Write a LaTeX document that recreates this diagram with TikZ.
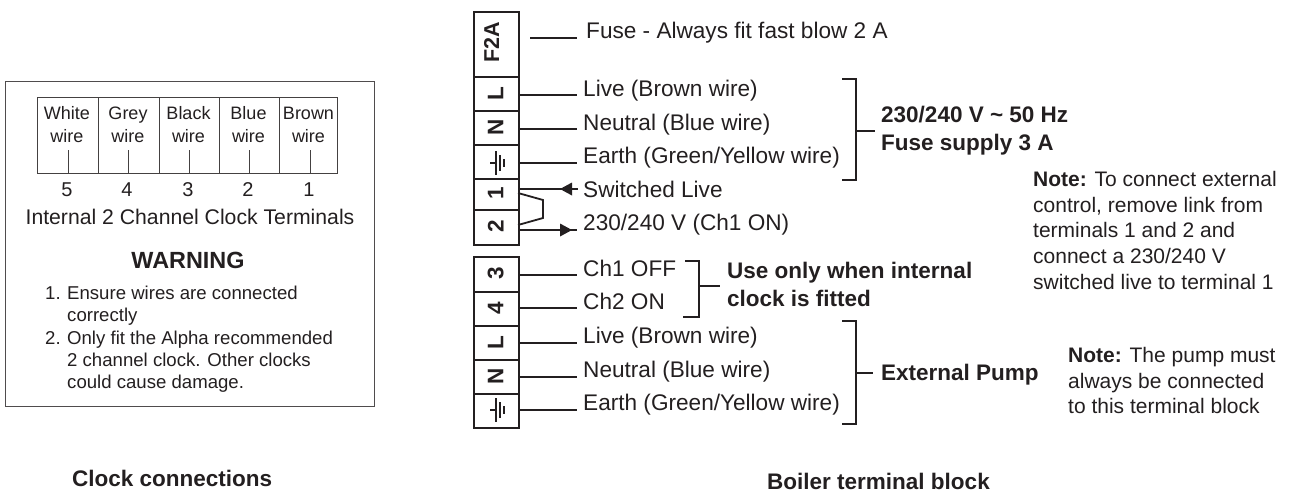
\documentclass[tikz,border=0pt]{standalone}
\usepackage{fontspec}
\setmainfont{Liberation Sans}
\definecolor{ink}{HTML}{231F20}
\tikzset{
  x=1pt,y=-1pt,
  txt/.style={anchor=base west,inner sep=0pt,text=ink,font=\fontsize{22.6}{26}\selectfont},
  boldtxt/.style={anchor=base west,inner sep=0pt,text=ink,font=\fontsize{22.5}{28}\selectfont\bfseries},
  note/.style={anchor=north west,inner sep=0pt,text=ink,font=\fontsize{21}{25.7}\selectfont,align=left},
  cell/.style={anchor=center,inner sep=0pt,text=ink,align=center,font=\fontsize{18}{23}\selectfont},
  term/.style={draw=ink,line width=2.3pt,minimum width=45pt,inner sep=0pt,anchor=north west,text=ink},
  tlabel/.style={text=ink,font=\fontsize{22.5}{24}\selectfont\bfseries,rotate=90,inner sep=0pt,xshift=1pt,yshift=0.5pt},
  wire/.style={draw=ink,line width=1.8pt},
  brk/.style={draw=ink,line width=2pt},
  thin/.style={draw=ink!85,line width=1pt},
  tcell/.style={thin,minimum height=76pt,anchor=north west,inner sep=0pt}
}
\newcommand{\earthsym}[2]{%
  \draw[ink,line width=1.2pt] (#1-6,#2) -- (#1,#2) (#1,#2-12) -- (#1,#2+12);
  \draw[ink,line width=1.2pt] (#1+4,#2-8) -- (#1+4,#2+8);
  \draw[ink,line width=1.2pt] (#1+8,#2-4) -- (#1+8,#2+4);
}
\begin{document}
\begin{tikzpicture}
\useasboundingbox (0,0) rectangle (1289,493);
% clock panel
\node[draw=ink!80,line width=1.3pt,minimum width=369pt,minimum height=325pt,anchor=north west,inner sep=0pt] (panel) at (5,81) {};
\node[tcell,minimum width=61pt] (c5) at (37,97) {};
\node[tcell,minimum width=61pt] (c4) at (98,97) {};
\node[tcell,minimum width=60pt] (c3) at (159,97) {};
\node[tcell,minimum width=60pt] (c2) at (219,97) {};
\node[tcell,minimum width=58pt] (c1) at (279,97) {};
\node[cell] (w5) at (67,125) {White\\wire};
\node[cell] (w4) at (128,125) {Grey\\wire};
\node[cell] (w3) at (188.5,125) {Black\\wire};
\node[cell] (w2) at (248.5,125) {Blue\\wire};
\node[cell] (w1) at (308.5,125) {Brown\\wire};
\foreach \x/\n/\m in {68/5/a,128/4/b,189/3/c,249/2/d,310/1/e}{
  \coordinate (t\m) at (\x,150);
  \coordinate (u\m) at (\x,173);
  \draw[thin] (t\m) -- (u\m);
  \node[cell,font=\fontsize{20}{22}\selectfont] (n\n) at (\x-1,190) {\n};
}
\node[cell,font=\fontsize{21.2}{24}\selectfont] (cap) at (190,217) {Internal 2 Channel Clock Terminals};
\node[cell,font=\fontsize{23.4}{26}\selectfont\bfseries] (warn) at (188,260) {WARNING};
\node[note,font=\fontsize{18.6}{22.2}\selectfont] (list) at (45,286) {%
  \makebox[22pt][l]{1.}Ensure wires are connected\\
  \makebox[22pt][l]{}correctly\\
  \makebox[22pt][l]{2.}Only fit the Alpha recommended\\
  \makebox[22pt][l]{}2 channel clock. Other clocks\\
  \makebox[22pt][l]{}could cause damage.};
\node[boldtxt] (cc) at (72,486) {Clock connections};
% terminal block
\foreach \nm/\y/\h in {f/11/65,l/76/34,n/110/34,e/144/34,a/178/31,b/209/35,c/256/35,d/291/34,g/325/34,h/359/34,i/393/34}{
  \node[term,minimum height=\h pt] (\nm) at (472.5,\y) {};
}
\node[tlabel,font=\fontsize{21.5}{24}\selectfont\bfseries,xshift=1.5pt,yshift=4pt] (lf) at (f.center) {F2A};
\node[tlabel] (ll) at (l.center) {L};
\node[tlabel] (ln) at (n.center) {N};
\node[tlabel] (la) at (a.center) {1};
\node[tlabel] (lb) at (b.center) {2};
\node[tlabel] (lc) at (c.center) {3};
\node[tlabel] (ld) at (d.center) {4};
\node[tlabel] (lg) at (g.center) {L};
\node[tlabel] (lh) at (h.center) {N};
\earthsym{496}{163}
\earthsym{496}{410}
% text labels
\node[txt] (tf) at (586,38) {Fuse - Always fit fast blow 2 A};
\node[txt] (tl) at (583,96) {Live (Brown wire)};
\node[txt] (tn) at (583,130) {Neutral (Blue wire)};
\node[txt] (te) at (583,163) {Earth (Green/Yellow wire)};
\node[txt] (ta) at (583,197) {Switched Live};
\node[txt] (tb) at (583,230) {230/240 V (Ch1 ON)};
\node[txt] (tc) at (583,276) {Ch1 OFF};
\node[txt] (td) at (583,309) {Ch2 ON};
\node[txt] (tg) at (583,343) {Live (Brown wire)};
\node[txt] (th) at (583,377) {Neutral (Blue wire)};
\node[txt] (ti) at (583,410) {Earth (Green/Yellow wire)};
% wires
\coordinate (ef) at (530,38); \coordinate (ff) at (577,38);
\draw[wire] (ef) -- (ff);
\foreach \s/\y in {l/95,n/129,e/163,c/275,d/308,g/343,h/377,i/410}{
  \coordinate (s\s) at (518,\y);
  \coordinate (x\s) at (577,\y);
  \draw[wire] (s\s) -- (x\s);
}
\coordinate (sa) at (518,189); \coordinate (xa) at (578,189);
\draw[wire] (sa) -- (xa);
\fill[ink] (560,189) -- (572,182.5) -- (572,195.5) -- cycle;
\coordinate (sb) at (518,230); \coordinate (xb) at (577,230);
\draw[wire] (sb) -- (xb);
\fill[ink] (572,230) -- (560,223.5) -- (560,236.5) -- cycle;
\coordinate (k1) at (518,193); \coordinate (k2) at (543,200); \coordinate (k3) at (543,218); \coordinate (k4) at (518,225);
\draw[wire] (k1) -- (k2) -- (k3) -- (k4);
% brackets
\coordinate (b1a) at (842,79); \coordinate (b1b) at (856,79); \coordinate (b1c) at (856,180); \coordinate (b1d) at (842,180); \coordinate (b1m) at (856,131); \coordinate (b1e) at (875,131);
\draw[brk] (b1a) -- (b1b) -- (b1c) -- (b1d) (b1m) -- (b1e);
\coordinate (b2a) at (685,261); \coordinate (b2b) at (699,261); \coordinate (b2c) at (699,317); \coordinate (b2d) at (683,317); \coordinate (b2m) at (699,286); \coordinate (b2e) at (720,286);
\draw[brk] (b2a) -- (b2b) -- (b2c) -- (b2d) (b2m) -- (b2e);
\coordinate (b3a) at (842,321); \coordinate (b3b) at (856,321); \coordinate (b3c) at (856,424); \coordinate (b3d) at (842,424); \coordinate (b3m) at (856,373); \coordinate (b3e) at (873,373);
\draw[brk] (b3a) -- (b3b) -- (b3c) -- (b3d) (b3m) -- (b3e);
% bold notes
\node[boldtxt] (v1) at (881,122.5) {230/240 V \textasciitilde{} 50 Hz};
\node[boldtxt] (v2) at (881,150) {Fuse supply 3 A};
\node[boldtxt] (u1) at (727,278) {Use only when internal};
\node[boldtxt] (u2) at (727,306) {clock is fitted};
\node[boldtxt] (p) at (881,380) {External Pump};
\node[note] (n1) at (1033,171) {\textbf{Note:} To connect external\\control, remove link from\\terminals 1 and 2 and\\connect a 230/240 V\\switched live to terminal 1};
\node[note] (n2) at (1068,347) {\textbf{Note:} The pump must\\always be connected\\to this terminal block};
\node[boldtxt] (bb) at (767,489) {Boiler terminal block};
\end{tikzpicture}
\end{document}
